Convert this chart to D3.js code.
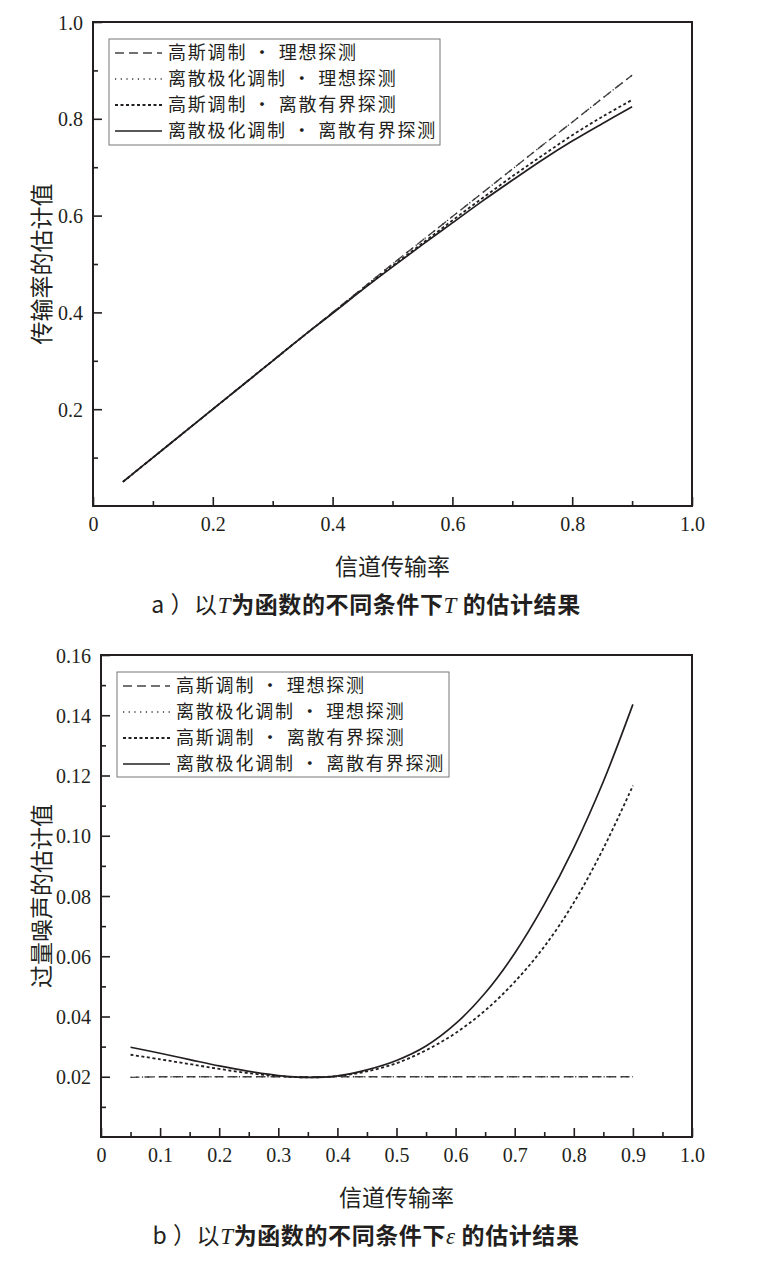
<!DOCTYPE html>
<html>
<head>
<meta charset="utf-8">
<script src="https://cdn.jsdelivr.net/npm/d3@7"></script>
<style>
  body { margin: 0; background: #fff; }
  .tick-label { font-family: "Liberation Serif", "DejaVu Serif", serif; font-size: 20px; fill: #231f20; }
  .cjk { font-family: "Noto Sans CJK SC", sans-serif; fill: #231f20; }
</style>
</head>
<body>
<svg id="chart" width="766" height="1268"></svg>
<script>
// 横轴：信道传输率 T
var xT = [0.05, 0.1, 0.15, 0.2, 0.25, 0.3, 0.35, 0.4, 0.45, 0.5, 0.55, 0.6, 0.65, 0.7, 0.75, 0.8, 0.85, 0.9];

var seriesNames = ["高斯调制 • 理想探测", "离散极化调制 • 理想探测", "高斯调制 • 离散有界探测", "离散极化调制 • 离散有界探测"];

// a) 传输率的估计值
var aGaussIdeal    = [0.05, 0.10, 0.15, 0.20, 0.25, 0.30, 0.35, 0.40, 0.45, 0.50, 0.549, 0.598, 0.647, 0.696, 0.745, 0.793, 0.842, 0.890];
var aDiscIdeal     = [0.05, 0.10, 0.15, 0.20, 0.25, 0.30, 0.35, 0.40, 0.45, 0.50, 0.549, 0.598, 0.647, 0.696, 0.745, 0.793, 0.842, 0.890];
var aGaussBounded  = [0.05, 0.10, 0.15, 0.20, 0.25, 0.30, 0.35, 0.399, 0.448, 0.496, 0.543, 0.590, 0.636, 0.681, 0.724, 0.766, 0.804, 0.839];
var aDiscBounded   = [0.05, 0.10, 0.15, 0.20, 0.25, 0.30, 0.35, 0.398, 0.447, 0.494, 0.540, 0.585, 0.630, 0.673, 0.715, 0.754, 0.790, 0.825];

// b) 过量噪声的估计值
var bGaussIdeal    = [0.0198, 0.0200, 0.0200, 0.0200, 0.0200, 0.0200, 0.0200, 0.0200, 0.0200, 0.0200, 0.0200, 0.0200, 0.0200, 0.0200, 0.0200, 0.0200, 0.0200, 0.0200];
var bDiscIdeal     = [0.0198, 0.0200, 0.0200, 0.0200, 0.0200, 0.0200, 0.0200, 0.0200, 0.0200, 0.0200, 0.0200, 0.0200, 0.0200, 0.0200, 0.0200, 0.0200, 0.0200, 0.0200];
var bGaussBounded  = [0.0273, 0.0258, 0.0242, 0.0226, 0.0212, 0.0202, 0.0198, 0.0202, 0.0218, 0.0245, 0.0288, 0.0345, 0.0420, 0.0515, 0.0632, 0.0778, 0.0958, 0.1166];
var bDiscBounded   = [0.0298, 0.0278, 0.0257, 0.0236, 0.0218, 0.0204, 0.0198, 0.0203, 0.0223, 0.0254, 0.0302, 0.0376, 0.0478, 0.0610, 0.0772, 0.0960, 0.1180, 0.1436];

var aXTicks = [0, 0.2, 0.4, 0.6, 0.8, 1.0];
var aYTicks = [0.2, 0.4, 0.6, 0.8, 1.0];
var bXTicks = [0, 0.1, 0.2, 0.3, 0.4, 0.5, 0.6, 0.7, 0.8, 0.9, 1.0];
var bYTicks = [0.02, 0.04, 0.06, 0.08, 0.10, 0.12, 0.14, 0.16];

var ink = "#231f20";
var styles = [
  { dash: "9,5",   width: 1.4, color: "#444" },
  { dash: "1.2,4.5", width: 1.4, color: "#333" },
  { dash: "3,2.5", width: 1.8, color: ink },
  { dash: null,    width: 1.7, color: ink }
];

var svg = d3.select("#chart");

function fmt(d, digits) {
  if (d === 0) return "0";
  return d.toFixed(digits);
}

function drawPanel(p) {
  var g = svg.append("g");
  var x = d3.scaleLinear().domain([0, 1]).range([p.left, p.right]);
  var y = d3.scaleLinear().domain(p.yDomain).range([p.bottom, p.top]);

  // ticks (inward)
  var xAxis = d3.axisBottom(x).tickValues(p.xTicks).tickSizeInner(-9).tickSizeOuter(0)
    .tickFormat(function(d) { return fmt(d, 1); });
  var xMinor = d3.axisBottom(x).tickValues(p.xMinor).tickSizeInner(-5).tickSizeOuter(0).tickFormat("");
  var yAxis = d3.axisLeft(y).tickValues(p.yTicks).tickSizeInner(-9).tickSizeOuter(0)
    .tickFormat(function(d) { return fmt(d, p.yDigits); });
  var yMinor = d3.axisLeft(y).tickValues(p.yMinor).tickSizeInner(-5).tickSizeOuter(0).tickFormat("");

  var gx = g.append("g").attr("transform", "translate(0," + p.bottom + ")").call(xAxis);
  g.append("g").attr("transform", "translate(0," + p.bottom + ")").call(xMinor);
  var gy = g.append("g").attr("transform", "translate(" + p.left + ",0)").call(yAxis);
  g.append("g").attr("transform", "translate(" + p.left + ",0)").call(yMinor);

  g.selectAll(".domain").remove();
  g.selectAll(".tick line").attr("stroke", ink).attr("stroke-width", 1.6);
  gx.selectAll("text").attr("class", "tick-label").attr("dy", null).attr("y", 25);
  gy.selectAll("text").attr("class", "tick-label").attr("dy", "0.35em").attr("x", -10);

  // frame
  g.append("rect")
    .attr("x", p.left).attr("y", p.top)
    .attr("width", p.right - p.left).attr("height", p.bottom - p.top)
    .attr("fill", "none").attr("stroke", ink).attr("stroke-width", 2);

  // curves
  var line = d3.line()
    .x(function(d) { return x(d[0]); })
    .y(function(d) { return y(d[1]); })
    .curve(d3.curveCatmullRom.alpha(0.5));

  p.series.forEach(function(vals, i) {
    var pts = xT.map(function(t, k) { return [t, vals[k]]; });
    g.append("path")
      .attr("d", line(pts))
      .attr("fill", "none")
      .attr("stroke", styles[i].color)
      .attr("stroke-width", styles[i].width)
      .attr("stroke-dasharray", styles[i].dash);
  });

  // legend
  var lg = g.append("g");
  lg.append("rect")
    .attr("x", p.legend.x).attr("y", p.legend.y)
    .attr("width", p.legend.w).attr("height", p.legend.h)
    .attr("fill", "#fff").attr("stroke", "#777").attr("stroke-width", 1);
  seriesNames.forEach(function(name, i) {
    var cy = p.legend.y + 14 + i * 26;
    lg.append("line")
      .attr("x1", p.legend.x + 6).attr("x2", p.legend.x + 53)
      .attr("y1", cy).attr("y2", cy)
      .attr("stroke", styles[i].color)
      .attr("stroke-width", styles[i].width)
      .attr("stroke-dasharray", styles[i].dash);
    lg.append("text")
      .attr("class", "cjk")
      .attr("x", p.legend.x + 59).attr("y", cy)
      .attr("dy", "0.36em")
      .attr("font-size", 18)
      .attr("letter-spacing", 1.8)
      .attr("xml:space", "preserve")
      .text(name);
  });

  // axis titles
  g.append("text").attr("class", "cjk")
    .attr("x", (p.left + p.right) / 2).attr("y", p.bottom + 69)
    .attr("text-anchor", "middle").attr("font-size", 23)
    .text("信道传输率");
  g.append("text").attr("class", "cjk")
    .attr("transform", "translate(" + 50 + "," + ((p.top + p.bottom) / 2) + ") rotate(-90)")
    .attr("text-anchor", "middle").attr("font-size", 23)
    .text(p.yTitle);

  // caption
  var cap = g.append("text").attr("class", "cjk")
    .attr("x", 366).attr("y", p.bottom + 107)
    .attr("text-anchor", "middle").attr("font-size", 23).attr("font-weight", "bold")
    .attr("letter-spacing", 0.6)
    .attr("xml:space", "preserve");
  cap.append("tspan").attr("font-weight", "normal").text(p.capLetter + " ）以");
  cap.append("tspan").attr("font-family", "Liberation Serif, serif").attr("font-style", "italic").attr("font-weight", "normal").text("T");
  cap.append("tspan").text("为函数的不同条件下");
  cap.append("tspan").attr("font-family", "Liberation Serif, serif").attr("font-style", "italic").attr("font-weight", "normal").text(p.capSym);
  cap.append("tspan").text(" 的估计结果");
}

drawPanel({
  left: 93, right: 692, top: 22, bottom: 506,
  yDomain: [0, 1], yDigits: 1,
  xTicks: aXTicks, xMinor: [0.1, 0.3, 0.5, 0.7, 0.9],
  yTicks: aYTicks, yMinor: [0.1, 0.3, 0.5, 0.7, 0.9],
  series: [aGaussIdeal, aDiscIdeal, aGaussBounded, aDiscBounded],
  legend: { x: 109, y: 39, w: 331, h: 106 },
  yTitle: "传输率的估计值",
  capLetter: "a", capSym: "T"
});

drawPanel({
  left: 101, right: 692, top: 655, bottom: 1137,
  yDomain: [0, 0.16], yDigits: 2,
  xTicks: bXTicks, xMinor: [0.05, 0.15, 0.25, 0.35, 0.45, 0.55, 0.65, 0.75, 0.85, 0.95],
  yTicks: bYTicks, yMinor: [0.01, 0.03, 0.05, 0.07, 0.09, 0.11, 0.13, 0.15],
  series: [bGaussIdeal, bDiscIdeal, bGaussBounded, bDiscBounded],
  legend: { x: 117, y: 672, w: 332, h: 105 },
  yTitle: "过量噪声的估计值",
  capLetter: "b", capSym: "ε"
});
</script>
</body>
</html>
